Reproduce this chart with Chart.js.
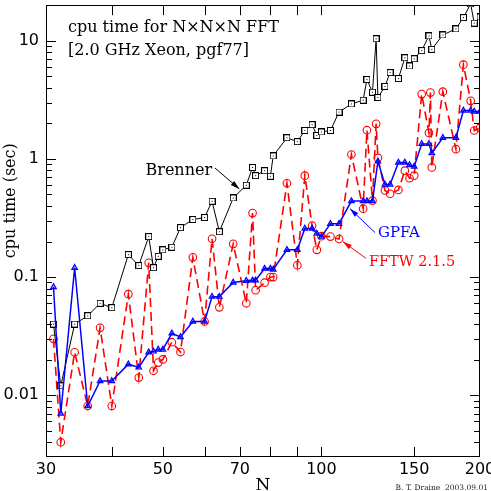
<!DOCTYPE html>
<html><head><meta charset="utf-8">
<script src="https://cdn.jsdelivr.net/npm/chart.js@4.4.1/dist/chart.umd.min.js"></script>
<style>html,body{margin:0;padding:0;background:#fff;}canvas{display:block;}</style>
</head><body>
<canvas id="c" width="491" height="491"></canvas>
<script>
// ---- data (cpu time in seconds for N x N x N FFT) ----
const sizes   = [31,32,34,36,38,40,43,45,47,48,49,50,52,54,57,60,62,64,68,72,74,75,78,80,81,86,90,93,96,98,100,104,108,114,120,122,125,127,128,132,135,140,144,147,150,155,160,161,162,170,180,186,192,195,200];
const brenner = [0.040,0.012,0.040,0.047,0.060,0.055,0.155,0.125,0.22,0.12,0.15,0.17,0.179,0.262,0.307,0.319,0.438,0.242,0.467,0.599,0.847,0.722,0.795,0.713,1.06,1.51,1.40,1.74,1.95,1.58,1.69,1.74,2.49,2.92,3.14,4.70,3.67,10.4,3.31,4.11,5.38,4.79,7.18,6.12,7.04,8.26,11.0,null,8.46,11.2,12.6,15.7,20.5,14.1,15.9];
const gpfa    = [0.0825,0.0070,0.120,0.0081,0.0132,0.0132,0.0183,0.0172,0.0231,0.0235,0.0244,0.0244,0.0334,0.0311,0.0421,0.0421,0.0683,0.0683,0.090,0.0931,0.0939,0.0939,0.118,0.118,0.116,0.170,0.170,0.258,0.258,0.234,0.220,0.283,0.283,0.440,0.440,0.440,0.440,null,0.955,0.608,0.608,0.933,0.933,0.889,0.863,1.34,1.34,null,1.12,1.51,1.51,2.57,2.57,2.52,2.52];
const fftw    = [0.0300,0.0040,0.0231,0.0081,0.0372,0.0081,0.0717,0.0141,0.132,0.0161,0.0189,0.0201,0.0281,0.0232,0.147,0.0421,0.211,0.0554,0.191,0.0600,0.348,0.0774,0.0896,0.100,0.100,0.622,0.126,0.722,0.272,0.170,0.222,0.220,0.210,1.09,0.379,1.75,0.443,1.98,1.02,0.541,0.507,0.547,0.795,0.686,0.722,3.54,1.66,3.64,0.847,3.71,1.21,6.28,3.10,1.74,1.83];

const xTickValues = [30,40,50,60,70,80,90,100,150,200];
const xTickLabels = [30,50,70,100,150,200];
const yTickValues = [0.003,0.004,0.005,0.006,0.007,0.008,0.009,0.01,0.02,0.03,0.04,0.05,0.06,0.07,0.08,0.09,0.1,0.2,0.3,0.4,0.5,0.6,0.7,0.8,0.9,1,2,3,4,5,6,7,8,9,10,20];
const yTickMajor  = [0.01,0.1,1,10];
const yTickLabels = ['0.01','0.1','1','10'];

const titleLines = ['cpu time for N\u00d7N\u00d7N FFT','[2.0 GHz Xeon, pgf77]'];
const xTitle = 'N';
const yTitle = 'cpu time (sec)';
const footer = 'B. T. Draine  2003.09.01';
const seriesNames = ['Brenner','GPFA','FFTW 2.1.5'];

// labels with arrows, anchored in data coordinates
const notes = [
  {text:seriesNames[0], color:'#000000', size:16,   align:'right', tx:62.0,  ty:0.731, x1:62.8,  y1:0.837, x2:69.85, y2:0.557},
  {text:seriesNames[1], color:'#0000ff', size:15,   align:'left',  tx:128.0, ty:0.220, x1:126.4, y1:0.238, x2:113.3, y2:0.379},
  {text:seriesNames[2], color:'#ff0000', size:14.5, align:'left',  tx:123.1, ty:0.123, x1:121.5, y1:0.144, x2:109.9, y2:0.199}
];

function pts(vals){ return sizes.map((n,i)=>({x:n, y:vals[i]})); }

function squareMarker(){
  const c=document.createElement('canvas'); c.width=7; c.height=7;
  const g=c.getContext('2d');
  g.fillStyle='#fff'; g.fillRect(0,0,7,7);
  g.strokeStyle='#000'; g.lineWidth=1; g.strokeRect(0.5,0.5,6,6);
  g.fillStyle='#000'; g.fillRect(3,3,1,1);
  return c;
}

const SERIF='"DejaVu Serif", serif';

const decor = {
  id:'decor',
  afterDatasetsDraw(chart){
    const ctx=chart.ctx, ca=chart.chartArea, xs=chart.scales.x, ys=chart.scales.y;
    ctx.save();
    ctx.strokeStyle='#000'; ctx.lineWidth=1;
    // frame
    ctx.strokeRect(Math.round(ca.left)+0.5, Math.round(ca.top)+0.5, Math.round(ca.right-ca.left)-1, Math.round(ca.bottom-ca.top)-1);
    ctx.beginPath();
    xTickValues.forEach(v=>{
      if (v<=xs.min || v>=xs.max) return;
      const p=Math.round(xs.getPixelForValue(v))+0.5;
      ctx.moveTo(p, ca.bottom); ctx.lineTo(p, ca.bottom-10);
      ctx.moveTo(p, ca.top); ctx.lineTo(p, ca.top+10);
    });
    yTickValues.forEach(v=>{
      if (v<=ys.min || v>=ys.max) return;
      const len = yTickMajor.includes(v) ? 10 : 6;
      const p=Math.round(ys.getPixelForValue(v))+0.5;
      ctx.moveTo(ca.left, p); ctx.lineTo(ca.left+len, p);
      ctx.moveTo(ca.right, p); ctx.lineTo(ca.right-len, p);
    });
    ctx.stroke();

    // title lines
    ctx.fillStyle='#000';
    ctx.font='16px '+SERIF;
    ctx.textAlign='left'; ctx.textBaseline='alphabetic';
    ctx.fillText(titleLines[0], ca.left+22, ca.top+26.5);
    ctx.fillText(titleLines[1], ca.left+22, ca.top+49.5);

    // notes with arrows
    notes.forEach(n=>{
      ctx.fillStyle=n.color; ctx.strokeStyle=n.color;
      ctx.font=n.size+'px '+SERIF;
      ctx.textAlign=n.align;
      ctx.fillText(n.text, xs.getPixelForValue(n.tx), ys.getPixelForValue(n.ty));
      const ax=xs.getPixelForValue(n.x1), ay=ys.getPixelForValue(n.y1);
      const bx=xs.getPixelForValue(n.x2), by=ys.getPixelForValue(n.y2);
      ctx.lineWidth=1;
      ctx.beginPath(); ctx.moveTo(ax,ay); ctx.lineTo(bx,by); ctx.stroke();
      const ang=Math.atan2(by-ay,bx-ax), L=9, W=2.6;
      ctx.beginPath();
      ctx.moveTo(bx,by);
      ctx.lineTo(bx-L*Math.cos(ang)+W*Math.sin(ang), by-L*Math.sin(ang)-W*Math.cos(ang));
      ctx.lineTo(bx-L*Math.cos(ang)-W*Math.sin(ang), by-L*Math.sin(ang)+W*Math.cos(ang));
      ctx.closePath(); ctx.fill();
    });

    // axis titles
    ctx.fillStyle='#000';
    ctx.font='17px '+SERIF;
    ctx.textAlign='center';
    ctx.fillText(xTitle, (ca.left+ca.right)/2, 490);
    ctx.save();
    ctx.translate(14.5, ca.top+195.5);
    ctx.rotate(-Math.PI/2);
    ctx.font='16px '+SERIF;
    ctx.fillText(yTitle, 0, 0);
    ctx.restore();

    // footer
    ctx.font='7.5px '+SERIF;
    ctx.textAlign='right';
    ctx.fillStyle='#222';
    ctx.fillText(footer, 488, 490);
    ctx.restore();
  }
};

new Chart(document.getElementById('c'), {
  type:'line',
  data:{
    datasets:[
      {label:seriesNames[1], data:pts(gpfa), order:0, borderColor:'#0000ff', borderWidth:1.5,
       pointStyle:'triangle', pointRadius:3.2, pointBorderColor:'#0000ff', pointBackgroundColor:'rgba(0,0,255,0.35)', pointBorderWidth:1.2,
       spanGaps:true, tension:0},
      {label:seriesNames[0], data:pts(brenner), order:1, borderColor:'#000000', borderWidth:1,
       pointStyle:squareMarker(), pointRadius:3.5, spanGaps:true, tension:0},
      {label:seriesNames[2], data:pts(fftw), order:2, borderColor:'#ff0000', borderWidth:1.6, borderDash:[9,5],
       pointStyle:'circle', pointRadius:3.8, pointBorderColor:'#ff0000', pointBackgroundColor:'rgba(0,0,0,0)', pointBorderWidth:1.1,
       spanGaps:true, tension:0}
    ]
  },
  options:{
    responsive:false, animation:false, devicePixelRatio:1,
    layout:{padding:{left:0,right:11,top:2,bottom:0}},
    plugins:{legend:{display:false}, tooltip:{enabled:false}, title:{display:false}},
    scales:{
      x:{type:'logarithmic', min:30, max:200, position:'bottom',
         grid:{display:false, drawTicks:false}, border:{display:false},
         afterBuildTicks:s=>{ s.ticks = xTickValues.map(v=>({value:v})); },
         afterFit:s=>{ s.height=34; s.paddingLeft=0; s.paddingRight=0; },
         ticks:{autoSkip:false, maxRotation:0, minRotation:0, padding:3, color:'#000',
                font:{family:'"DejaVu Sans", sans-serif', size:16},
                callback:v=> xTickLabels.includes(v) ? String(v) : ''}},
      y:{type:'logarithmic', min:0.003, max:20, position:'left',
         grid:{display:false, drawTicks:false}, border:{display:false},
         afterBuildTicks:s=>{ s.ticks = yTickValues.map(v=>({value:v})); },
         afterFit:s=>{ s.width=46; s.paddingTop=0; s.paddingBottom=0; },
         ticks:{autoSkip:false, padding:7, color:'#000',
                font:{family:'"DejaVu Sans", sans-serif', size:16},
                callback:v=>{ const i=yTickMajor.indexOf(v); return i>=0 ? yTickLabels[i] : ''; }}}
    }
  },
  plugins:[decor]
});
</script>
</body></html>
